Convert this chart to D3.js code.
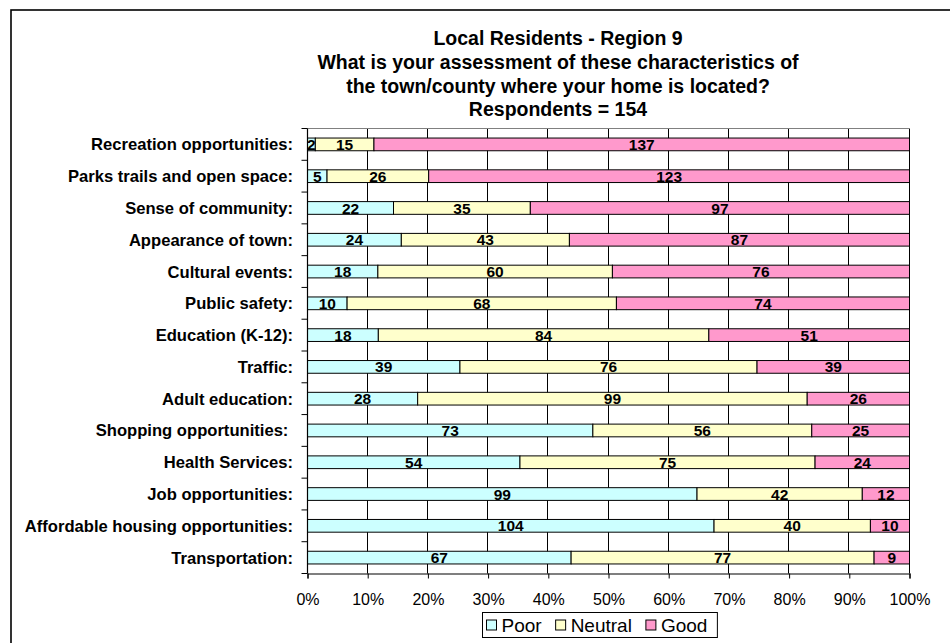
<!DOCTYPE html>
<html><head><meta charset="utf-8">
<script src="https://cdn.jsdelivr.net/npm/d3@7"></script>
<style>
html,body{margin:0;padding:0;background:#fff;}
svg{display:block;font-family:"Liberation Sans",Arial,sans-serif;}
</style></head>
<body>
<svg id="chart" width="950" height="643"></svg>
<script>
const categories = ["Recreation opportunities:","Parks trails and open space:","Sense of community:","Appearance of town:","Cultural events:","Public safety:","Education (K-12):","Traffic:","Adult education:","Shopping opportunities: ","Health Services:","Job opportunities:","Affordable housing opportunities:","Transportation:"];
const poor    = [2,5,22,24,18,10,18,39,28,73,54,99,104,67];
const neutral = [15,26,35,43,60,68,84,76,99,56,75,42,40,77];
const good    = [137,123,97,87,76,74,51,39,26,25,24,12,10,9];
const seriesNames = ["Poor","Neutral","Good"];
const seriesColors = ["#CCFFFF","#FFFFCC","#FF99CC"];
const tickValues = [0,0.1,0.2,0.3,0.4,0.5,0.6,0.7,0.8,0.9,1.0];
const titleLines = ["Local Residents - Region 9","What is your assessment of these characteristics of","the town/county where your home is located?","Respondents = 154"];

const svg = d3.select("#chart");
// outer chart border (extends past right/bottom)
svg.append("rect").attr("x",11).attr("y",10).attr("width",1400).attr("height",1000)
  .attr("fill","none").attr("stroke","#000").attr("stroke-width",1.6);

const L=307.5, R=909.5, T=128.5, B=573.5;
const x = d3.scaleLinear().domain([0,1]).range([L,R]);
const y = d3.scaleBand().domain(categories).range([T,B]).paddingInner(0.6).paddingOuter(0.3);

// title
const title = svg.append("text").attr("text-anchor","middle").attr("font-weight","bold").attr("font-size",19.5).attr("fill","#000");
titleLines.forEach((t,i)=>title.append("tspan").attr("x",558).attr("y",45+i*23.8).text(t));

// gridlines
svg.append("g").selectAll("line").data(tickValues.slice(1)).join("line")
  .attr("x1",d=>Math.round(x(d))-0.5).attr("x2",d=>Math.round(x(d))-0.5).attr("y1",T).attr("y2",B)
  .attr("stroke","#000").attr("stroke-width",1);
// plot top border
svg.append("line").attr("x1",L).attr("x2",R).attr("y1",T).attr("y2",T).attr("stroke","#808080").attr("stroke-width",1.2);

// stacked data
const rows = categories.map((c,i)=>({cat:c, Poor:poor[i], Neutral:neutral[i], Good:good[i]}));
const stack = d3.stack().keys(seriesNames).offset(d3.stackOffsetExpand);
const stacked = stack(rows);

const gBars = svg.append("g");
stacked.forEach((layer,si)=>{
  gBars.append("g").selectAll("rect").data(layer).join("rect")
    .attr("x",d=>x(d[0])).attr("width",d=>x(d[1])-x(d[0]))
    .attr("y",d=>y(d.data.cat)).attr("height",y.bandwidth())
    .attr("fill",seriesColors[si]).attr("stroke","#000").attr("stroke-width",1);
});
stacked.forEach((layer,si)=>{
  svg.append("g").selectAll("text").data(layer).join("text")
    .attr("x",d=>(x(d[0])+x(d[1]))/2).attr("y",d=>y(d.data.cat)+y.bandwidth()/2)
    .attr("dy","0.36em").attr("text-anchor","middle").attr("font-weight","bold").attr("font-size",15.5)
    .text(d=>d.data[seriesNames[si]]);
});

// y axis
const gy = svg.append("g");
gy.append("line").attr("x1",L).attr("x2",L).attr("y1",T).attr("y2",B).attr("stroke","#000").attr("stroke-width",1.2);
const step = y.step();
d3.range(categories.length+1).forEach(i=>{
  gy.append("line").attr("x1",L-6).attr("x2",L).attr("y1",T+i*step).attr("y2",T+i*step).attr("stroke","#000");
});
gy.selectAll("text.cat").data(categories).join("text").attr("class","cat")
  .attr("x",293).attr("y",d=>y(d)+y.bandwidth()/2).attr("dy","0.36em")
  .attr("text-anchor","end").attr("font-weight","bold").attr("font-size",16.6).style("white-space","pre").text(d=>d);

// x axis
const xAxis = d3.axisBottom(x).tickValues(tickValues).tickFormat(d3.format(".0%")).tickSize(5).tickPadding(15);
const gx = svg.append("g").attr("transform",`translate(0,${B})`).call(xAxis);
gx.select(".domain").attr("stroke","#000").attr("stroke-width",1.2);
gx.selectAll(".tick line").attr("stroke","#000");
gx.selectAll(".tick text").attr("font-size",16).attr("font-family","Liberation Sans, Arial, sans-serif").attr("fill","#000");

// legend
const lg = svg.append("g");
const lx0=482.5, ly0=612.5, lh=25;
let cx = lx0+4;
seriesNames.forEach((n,i)=>{
  lg.append("rect").attr("x",cx).attr("y",ly0+lh/2-5).attr("width",10).attr("height",10)
    .attr("fill",seriesColors[i]).attr("stroke","#000");
  const t = lg.append("text").attr("x",cx+15).attr("y",ly0+lh/2).attr("dy","0.36em").attr("font-size",19).text(n);
  cx = cx+15+t.node().getComputedTextLength()+14;
});
lg.insert("rect",":first-child").attr("x",lx0).attr("y",ly0).attr("width",cx-lx0-4).attr("height",lh)
  .attr("fill","#fff").attr("stroke","#000");
</script>
</body></html>
